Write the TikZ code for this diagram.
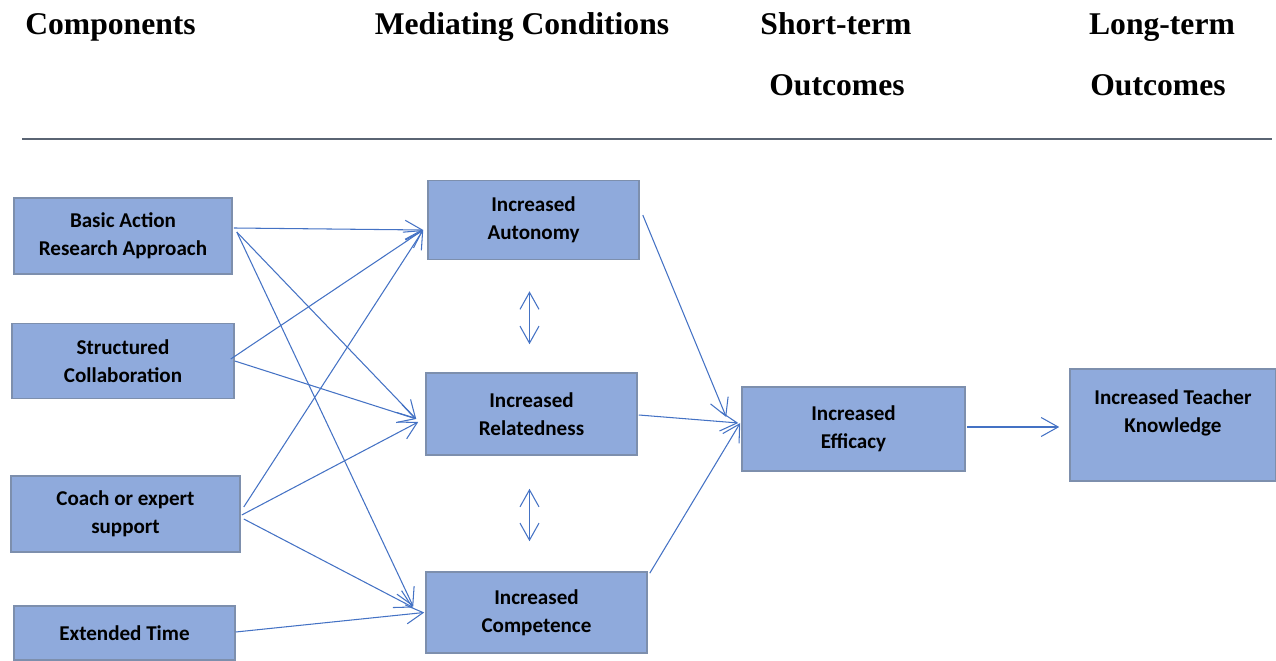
\documentclass[tikz,border=0pt]{standalone}
\usepackage{fontspec}
\setmainfont{Carlito}
\newfontfamily\headfont{Liberation Serif}
\usetikzlibrary{arrows.meta, calc}
\definecolor{boxfill}{HTML}{8FAADC}
\definecolor{boxline}{HTML}{7D8FAD}
\definecolor{arrowblue}{HTML}{4472C4}
\definecolor{rulegray}{HTML}{5A6473}

\begin{document}
\begin{tikzpicture}[
  x=0.02cm, y=-0.02cm,
  box/.style={draw=boxline, fill=boxfill, line width=0.9pt, align=center, inner sep=0pt, font=\fontsize{12}{15.9}\selectfont\bfseries},
  head/.style={inner sep=0pt, anchor=base, font=\headfont\fontsize{18}{22}\selectfont\bfseries},
  arr/.style={-{Straight Barb[length=3.4mm, width=3.8mm]}, arrowblue, line width=0.6pt},
  darr/.style={{Straight Barb[length=3.4mm, width=3.8mm]}-{Straight Barb[length=3.4mm, width=3.8mm]}, arrowblue, line width=0.6pt}
]
\useasboundingbox (0,0) rectangle (1276,661);

% column headings
\node[head, anchor=base west] (hcomp) at (25,35) {Components};
\node[head] (hmed) at (522,35) {Mediating Conditions};
\node[head] (hshort) at (836,35) {Short-term};
\node[head] (hshort2) at (837,96) {Outcomes};
\node[head] (hlong) at (1162,35) {Long-term};
\node[head] (hlong2) at (1158,96) {Outcomes};
\draw[rulegray, line width=1pt] (22,139) -- (1272,139);

% components
\node[box, minimum width=4.36cm, minimum height=1.52cm] (bar) at (123,236) {Basic Action\\Research Approach};
\node[box, minimum width=4.44cm, minimum height=1.5cm] (collab) at (123,361) {Structured\\Collaboration};
\node[box, minimum width=4.58cm, minimum height=1.52cm] (coach) at (125.5,514) {Coach or expert\\support};
\node[box, minimum width=4.42cm, minimum height=1.08cm] (time) at (124.5,633) {Extended Time};

% mediating conditions
\node[box, minimum width=4.22cm, minimum height=1.58cm] (aut) at (533.5,220) {Increased\\Autonomy};
\node[box, minimum width=4.22cm, minimum height=1.64cm] (rel) at (531.5,414) {Increased\\Relatedness};
\node[box, minimum width=4.42cm, minimum height=1.62cm] (comp) at (536.5,612.5) {Increased\\Competence};

% outcomes
\node[box, minimum width=4.46cm, minimum height=1.68cm] (eff) at (853.5,429) {Increased\\Efficacy};
\node[box, minimum width=4.12cm, minimum height=2.24cm] (know) at (1173,425) {Increased Teacher\\Knowledge\\\mbox{}};

% components -> mediating conditions
\draw[arr] ($(bar.east)+(1,-8)$) -- ($(aut.west)+(-4,10)$);
\draw[arr] ($(bar.east)+(4,-4)$) -- ($(rel.west)+(-9,5)$);
\draw[arr] ($(bar.east)+(4,-4)$) -- ($(comp.west)+(-12,-6)$);
\draw[arr] ($(collab.east)+(-4,-2)$) -- ($(aut.west)+(-4,10)$);
\draw[arr] ($(collab.east)+(0,0)$) -- ($(rel.west)+(-9,5)$);
\draw[arr] ($(coach.east)+(3,-7)$) -- ($(aut.west)+(-4,10)$);
\draw[arr] ($(coach.east)+(1,1)$) -- ($(rel.west)+(-7,8)$);
\draw[arr] ($(coach.east)+(3,5)$) -- ($(comp.west)+(-12,-5)$);
\draw[arr] ($(time.east)+(0,-1)$) -- ($(comp.west)+(-1,0)$);

% between mediating conditions
\draw[darr] ($(aut.south)+(-4,31)$) -- ($(rel.north)+(-2,-28)$);
\draw[darr] ($(rel.south)+(-2,33)$) -- ($(comp.north)+(-7,-30)$);

% mediating conditions -> outcomes
\draw[arr] ($(aut.east)+(3,-5)$) -- ($(eff.west)+(-15,-12)$);
\draw[arr] ($(rel.east)+(1,1)$) -- ($(eff.west)+(-3,-6)$);
\draw[arr] ($(comp.north east)+(2,2)$) -- ($(eff.west)+(-1,-6)$);
\draw[arr] ($(eff.east)+(1,-2)$) -- ($(know.west)+(-10,2)$);
\end{tikzpicture}
\end{document}
